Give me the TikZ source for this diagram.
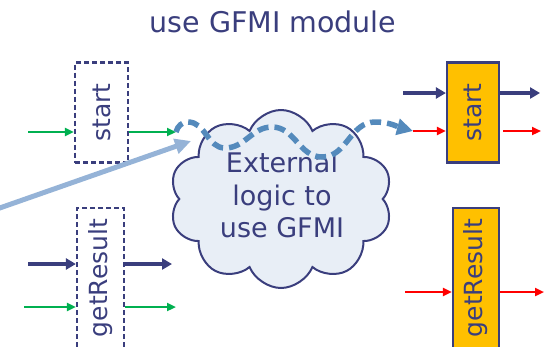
\documentclass[tikz,border=0pt]{standalone}
\usepackage{fontspec}
\setmainfont{DejaVu Sans}
\usepackage{graphicx}
\usetikzlibrary{arrows.meta, shapes.symbols, positioning}

\definecolor{ink}{RGB}{58,62,125}
\definecolor{gold}{RGB}{255,192,0}
\definecolor{grn}{RGB}{0,176,80}
\definecolor{skyline}{RGB}{149,179,215}
\definecolor{flow}{RGB}{84,138,188}
\definecolor{fog}{RGB}{232,238,246}

\begin{document}
\begin{tikzpicture}[x=1pt, y=-1pt,
    every node/.style={text=ink},
    dashbox/.style={draw=ink, dash pattern=on 5pt off 3pt, line width=2.2pt, inner sep=0pt},
    gatebox/.style={draw=ink, fill=gold, line width=2.2pt, inner sep=0pt},
    boxfont/.style={font=\fontsize{25}{29}\selectfont},
    ctrl/.style={draw=ink, line width=3.6pt, -{Triangle[length=10pt,width=11pt]}},
    greenwire/.style={draw=grn, line width=2.2pt, -{Triangle[length=9pt,width=8pt]}},
    redwire/.style={draw=red, line width=2.2pt, -{Triangle[length=9pt,width=8pt]}},
    hintline/.style={draw=skyline, line width=5pt, -{Triangle[length=16pt,width=15pt]}},
    flowpath/.style={draw=flow, line width=5.5pt, dash pattern=on 11pt off 6pt, -{Triangle[length=16pt,width=16pt]}}]
    \useasboundingbox (0,0) rectangle (545,346);

    % Title
    \node[font=\fontsize{28.5}{33}\selectfont, anchor=base] (title) at (273,32) {use GFMI module};

    % Plain gates (left)
    \node[dashbox, boxfont, minimum width=53pt, minimum height=100pt] (startA) at (101.5,112.5) {\rotatebox{90}{start}};
    \node[dashbox, boxfont, minimum width=47pt, minimum height=140pt] (resultA) at (100.5,278) {\rotatebox{90}{getResult}};

    % GFMI gates (right)
    \node[gatebox, boxfont, minimum width=52pt, minimum height=100pt] (startB) at (473,112.5) {\rotatebox{90}{start}};
    \node[gatebox, boxfont, minimum width=46pt, minimum height=140pt] (resultB) at (476,278) {\rotatebox{90}{getResult}};

    % Cloud in the middle
    \node[cloud, cloud puffs=10, cloud puff arc=135, aspect=1.25, draw=ink, fill=fog, line width=2pt,
          minimum width=223pt, minimum height=178pt] (logic) at (281,199) {};
    \node[align=center, font=\fontsize{27}{32.5}\selectfont] (logictext) at (282,195) {External\\logic to\\use GFMI};

    % Free ends
    \coordinate (a1) at (28,132);
    \coordinate (a2) at (176,132);
    \coordinate (b1) at (28,264);
    \coordinate (b2) at (172,264);
    \coordinate (c1) at (24,307);
    \coordinate (c2) at (176,307);
    \coordinate (d1) at (403,93);
    \coordinate (d2) at (540,93);
    \coordinate (e1) at (413,131);
    \coordinate (e2) at (541,131);
    \coordinate (f1) at (405,292);
    \coordinate (f2) at (544,292);
    \coordinate (hint) at (-6,210);
    \coordinate (aim) at (191,141);

    % Wires of the left gates
    \draw[greenwire] (a1) -- (a1 -| startA.west);
    \draw[greenwire] (a1 -| startA.east) -- (a2);
    \draw[ctrl] (b1) -- (b1 -| resultA.west);
    \draw[ctrl] (b1 -| resultA.east) -- (b2);
    \draw[greenwire] (c1) -- (c1 -| resultA.west);
    \draw[greenwire] (c1 -| resultA.east) -- (c2);

    % Wires of the right gates
    \draw[ctrl] (d1) -- (d1 -| startB.west);
    \draw[ctrl] (d1 -| startB.east) -- (d2);
    \draw[redwire] (e1) -- (e1 -| startB.west);
    \draw[redwire, shorten <=3pt] (e1 -| startB.east) -- (e2);
    \draw[redwire] (f1) -- (f1 -| resultB.west);
    \draw[redwire] (f1 -| resultB.east) -- (f2);

    % Pointer and flow through the cloud
    \draw[hintline] (hint) -- (aim);
    \draw[flowpath] (a2) to[out=75,in=180] (188,122) to[out=0,in=180] (225,148)
        to[out=0,in=180] (272,127) to[out=0,in=180] (322,157)
        to[out=0,in=180] (375,122) to[out=0,in=165] (e1);
\end{tikzpicture}
\end{document}
